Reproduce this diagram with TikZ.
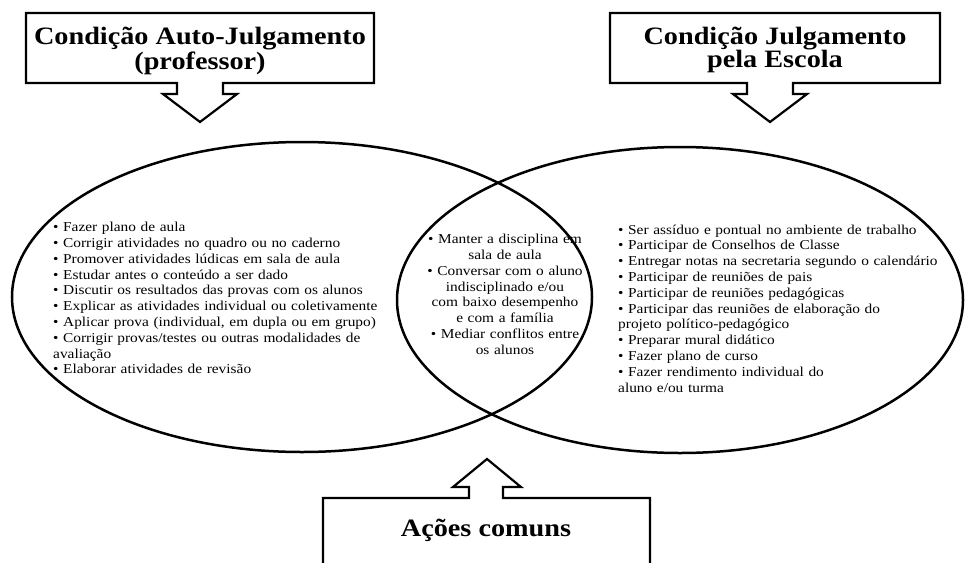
\documentclass[tikz,border=0pt]{standalone}
\usepackage{fontspec}
\setmainfont{Liberation Serif}[FakeStretch=1.13]
\usetikzlibrary{shapes.geometric,positioning}

\newcommand\listafonte{\fontsize{13.6}{15.8}\selectfont\spaceskip=0.34em\relax}

\begin{document}
\begin{tikzpicture}[x=1pt,y=-1pt,
    conj/.style={draw,ellipse,line width=2.5pt,inner sep=0pt},
    callout/.style={draw,line width=2.2pt,fill=white},
    titulo/.style={font=\fontsize{25}{21}\selectfont\bfseries,align=center},
    lista/.style={font=\listafonte,inner sep=0pt}]

\useasboundingbox (0,0) rectangle (966,562);

% conjuntos
\node[conj,minimum width=580pt,minimum height=310pt] (auto) at (302,297) {};
\node[conj,minimum width=566pt,minimum height=306pt] (escola) at (680,300) {};

% caixas com seta
\draw[callout] (26,13) -- (374,13) -- (374,83) -- (223,83) -- (223,94) -- (237,94)
    -- (200,122) -- (163,94) -- (177,94) -- (177,83) -- (26,83) -- cycle;
\draw[callout] (610,13) -- (940,13) -- (940,83) -- (793,83) -- (793,94) -- (807,94)
    -- (770,122) -- (733,94) -- (747,94) -- (747,83) -- (610,83) -- cycle;
\draw[callout] (323,570) -- (323,498) -- (469,498) -- (469,487) -- (453,487)
    -- (487,459) -- (521,487) -- (503,487) -- (503,498) -- (650,498) -- (650,570);

\node[titulo] (tauto) at (200,51) {Condição Auto-Julgamento\\(professor)};
\node[titulo] (tescola) at (775,50) {Condição Julgamento\\pela Escola};
\node[titulo] (tcomuns) at (486,530) {Ações comuns};

% listas
\node[lista,align=left,anchor=north west] (lauto) at (53,222) {%
  • Fazer plano de aula\\
  • Corrigir atividades no quadro ou no caderno\\
  • Promover atividades lúdicas em sala de aula\\
  • Estudar antes o conteúdo a ser dado\\
  • Discutir os resultados das provas com os alunos\\
  • Explicar as atividades individual ou coletivamente\\
  • Aplicar prova (individual, em dupla ou em grupo)\\
  • Corrigir provas/testes ou outras modalidades de\\
  avaliação\\
  • Elaborar atividades de revisão};
\node[lista,align=center,anchor=north] (lcomuns) at (505,234) {%
  • Manter a disciplina em\\
  sala de aula\\
  • Conversar com o aluno\\
  indisciplinado e/ou\\
  com baixo desempenho\\
  e com a família\\
  • Mediar conflitos entre\\
  os alunos};
\node[lista,align=left,anchor=north west] (lescola) at (618,224.5) {%
  • Ser assíduo e pontual no ambiente de trabalho\\
  • Participar de Conselhos de Classe\\
  • Entregar notas na secretaria segundo o calendário\\
  • Participar de reuniões de pais\\
  • Participar de reuniões pedagógicas\\
  • Participar das reuniões de elaboração do\\
  projeto político-pedagógico\\
  • Preparar mural didático\\
  • Fazer plano de curso\\
  • Fazer rendimento individual do\\
  aluno e/ou turma};

\end{tikzpicture}
\end{document}
